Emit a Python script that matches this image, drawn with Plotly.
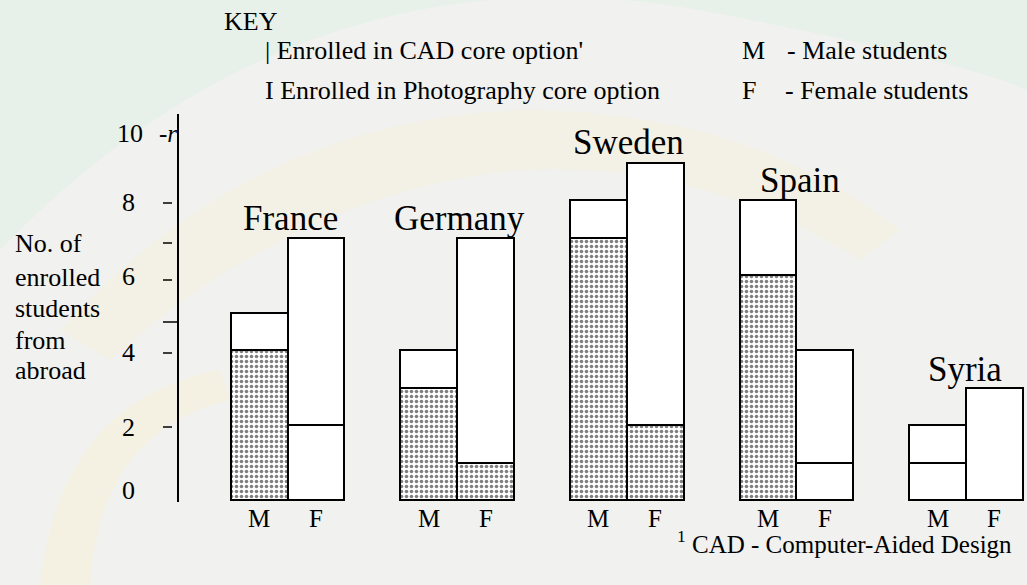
import plotly.graph_objects as go

# Enrolled students from abroad, by country and sex
countries = ["France", "Germany", "Sweden", "Spain", "Syria"]
cad_male = [4, 3, 7, 6, 1]
photo_male = [1, 1, 1, 2, 1]
cad_female = [2, 1, 2, 1, 0]
photo_female = [5, 6, 7, 3, 3]
y_tick_labels = ["0", "2", "4", "6", "8", "10"]

W, H = 1027, 585
L, R, T, B = 179, 0, 114, 83
PW, PH = W - L - R, H - T - B

def px(x):
    return (x - L) / PW

def py(y):
    return (H - B - y) / PH

half = 0.1675
x_male = [i - half for i in range(len(countries))]
x_female = [i + half for i in range(len(countries))]
xs = x_male + x_female

serif = '"Liberation Serif", "Times New Roman", Times, "DejaVu Serif", serif'
bar_line = dict(color="black", width=2.5)

fig = go.Figure()
fig.add_trace(go.Bar(
    x=xs, y=cad_male + cad_female, width=0.335,
    marker=dict(color="white", line=bar_line,
                pattern=dict(shape=[".", ".", ".", ".", "", "", ".", ".", "", ""],
                             fgcolor="black", bgcolor="white", size=5, solidity=0.4)),
    name="CAD", showlegend=False, hoverinfo="skip"))
fig.add_trace(go.Bar(
    x=xs, y=photo_male + photo_female, width=0.335,
    marker=dict(color="white", line=bar_line),
    name="Photography", showlegend=False, hoverinfo="skip"))

ann = []
def text(x, y, s, size=26, xanchor="left", yanchor="middle"):
    ann.append(dict(x=px(x), y=py(y), xref="paper", yref="paper", text=s,
                    showarrow=False, xanchor=xanchor, yanchor=yanchor,
                    font=dict(family=serif, size=size, color="black")))

# Key
text(222, 22, "KEY")
text(263, 51, "| Enrolled in CAD core option'")
text(263, 90, "I Enrolled in Photography core option")
text(740, 51, "M")
text(785, 51, "- Male students")
text(740, 90, "F")
text(783, 90, "- Female students")

# Axis title
for label, yy in zip(["No. of", "enrolled", "students", "from", "abroad"],
                     [243, 277, 308, 340, 370]):
    text(13, yy, label)

# Tick labels
for label, yy in zip(y_tick_labels, [490, 427, 352, 276, 202, 133]):
    text(128 if label != "10" else 130, yy, label, size=26, xanchor="center")
text(157, 133, "-<i>r</i>", size=25)

# Country labels
for name, cx, cy in zip(countries, [290, 459, 628, 800, 965], [218, 218, 143, 180, 369]):
    text(cx, cy, name, size=35, xanchor="center")

# M / F labels under the bars
for i in range(len(countries)):
    for xx, s in ((x_male[i], "M"), (x_female[i], "F")):
        ann.append(dict(x=xx, y=py(518), xref="x", yref="paper", text=s,
                        showarrow=False, xanchor="center", yanchor="middle",
                        font=dict(family=serif, size=25, color="black")))

# Footnote
text(675, 542, "<sup>1</sup> CAD - Computer-Aided Design", size=25)

shapes = []
# soft background wash
shapes.append(dict(type="path", xref="paper", yref="paper", layer="below",
                   path=f"M {px(0)} {py(250)} Q {px(300)} {py(-60)} {px(700)} {py(10)} "
                        f"Q {px(960)} {py(60)} {px(1027)} {py(90)} L {px(1027)} {py(0)} "
                        f"L {px(0)} {py(0)} Z",
                   fillcolor="#e8f1e9", line=dict(width=0)))
shapes.append(dict(type="path", xref="paper", yref="paper", layer="below",
                   path=f"M {px(60)} {py(330)} Q {px(250)} {py(120)} {px(520)} {py(110)} "
                        f"Q {px(750)} {py(110)} {px(900)} {py(230)} "
                        f"L {px(860)} {py(260)} Q {px(700)} {py(160)} {px(520)} {py(170)} "
                        f"Q {px(300)} {py(190)} {px(110)} {py(360)} Z",
                   fillcolor="#f4f1e2", line=dict(width=0), opacity=0.8))
shapes.append(dict(type="path", xref="paper", yref="paper", layer="below",
                   path=f"M {px(40)} {py(585)} Q {px(60)} {py(400)} {px(220)} {py(370)} "
                        f"L {px(230)} {py(400)} Q {px(100)} {py(430)} {px(90)} {py(585)} Z",
                   fillcolor="#f5f1df", line=dict(width=0), opacity=0.8))

# Axis tick dashes
for yy in [203, 243, 280, 353, 427]:
    shapes.append(dict(type="line", xref="paper", yref="paper",
                       x0=px(163), x1=px(172), y0=py(yy), y1=py(yy),
                       line=dict(color="black", width=1.5)))
shapes.append(dict(type="line", xref="paper", yref="paper",
                   x0=px(163), x1=px(179), y0=py(322), y1=py(322),
                   line=dict(color="black", width=1.5)))

fig.update_layout(
    width=W, height=H, margin=dict(l=L, r=R, t=T, b=B),
    barmode="stack", bargap=0,
    font=dict(family=serif, color="black"),
    paper_bgcolor="#f1f1ef", plot_bgcolor="rgba(0,0,0,0)",
    annotations=ann, shapes=shapes, showlegend=False,
    xaxis=dict(range=[-0.64, 4.36], visible=False, fixedrange=True),
    yaxis=dict(range=[-0.05, 10.3], showticklabels=False, ticks="",
               showgrid=False, zeroline=False, showline=True,
               linecolor="black", linewidth=1.5, fixedrange=True),
)

fig.write_html("out.html")
